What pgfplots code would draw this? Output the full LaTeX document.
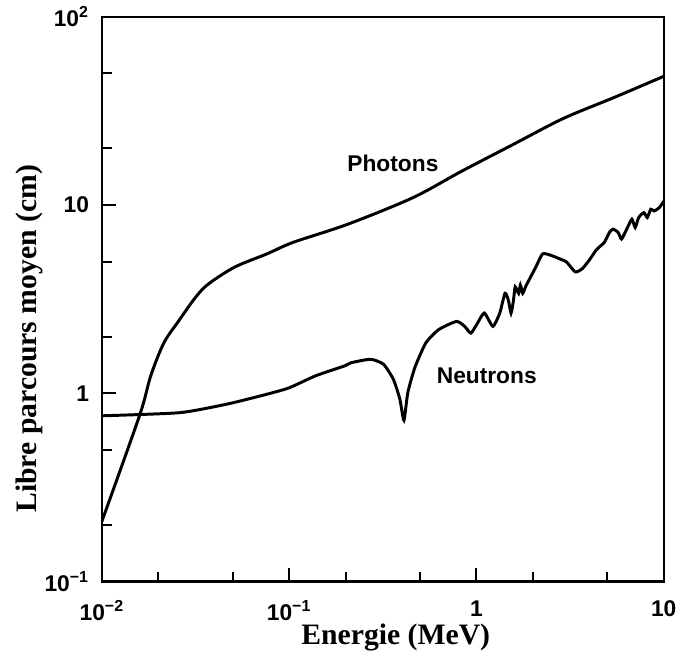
\documentclass[border=0pt]{standalone}
\usepackage{fontspec}
\setmainfont{Liberation Serif}
\setsansfont{Liberation Sans}
\usepackage{pgfplots}
\pgfplotsset{compat=1.18}
\begin{document}
\begin{tikzpicture}
\begin{axis}[
  name=ax,
  scale only axis,
  width=284pt, height=285.5pt,
  xmode=log, ymode=log,
  xmin=0.01, xmax=10, ymin=0.1, ymax=100,
  axis line style={line width=1.2pt},
  tick align=inside,
  xtick pos=bottom, ytick pos=left,
  major tick length=7pt, minor tick length=5pt,
  every tick/.style={black, line width=1pt},
  xtick={0.01,0.1,1,10},
  xticklabels={10\textsuperscript{−2},10\textsuperscript{−1},1,10},
  ytick={0.1,1,10,100},
  yticklabels={10\textsuperscript{−1},1,10,10\textsuperscript{2}},
  minor xtick={0.02,0.05,0.2,0.5,2,5},
  minor ytick={0.2,0.5,2,5,20,50},
  /pgf/number format/assume math mode=true,
  ticklabel style={font=\fontsize{11.5}{13}\selectfont\sffamily\bfseries},
  xticklabel style={yshift=-6pt},
  yticklabel style={xshift=-3pt},
  xlabel={Energie (MeV)},
  ylabel={Libre parcours moyen (cm)},
  label style={font=\fontsize{15}{18}\selectfont\rmfamily\bfseries},
  xlabel style={at={(axis description cs:0.523,-0.099)}, anchor=center},
  ylabel style={at={(axis description cs:-0.1285,0.43)}, anchor=center, rotate=0},
]
\addplot[black, line width=1.5pt, smooth, tension=0.5] coordinates {
(0.01,0.209) (0.0159,0.764) (0.01824,1.24) (0.0214,1.85) (0.0256,2.41)
(0.0318,3.26) (0.0373,3.83) (0.0513,4.69) (0.0762,5.51) (0.105,6.34)
(0.206,7.92) (0.457,10.94) (0.83,15.1) (1.543,20.8) (2.90,28.8)
(5.47,37.4) (10,48.3)
};
\addplot[black, line width=1.5pt, smooth, tension=0.35] coordinates {
(0.01,0.76) (0.0261,0.79) (0.0473,0.88) (0.0762,0.99) (0.1,1.07)
(0.1385,1.24) (0.198,1.40) (0.2146,1.455) (0.2724,1.517) (0.319,1.427)
(0.3597,1.19) (0.3897,0.935) (0.41,0.72) (0.43,1.01) (0.47,1.38)
(0.536,1.85) (0.628,2.18) (0.782,2.41) (0.864,2.27) (0.934,2.09)
(1.013,2.36) (1.102,2.67) (1.224,2.27) (1.332,2.67) (1.42,3.40)
(1.48,3.13) (1.53,2.67) (1.577,3.13) (1.61,3.68) (1.68,3.40)
(1.716,3.76) (1.767,3.40) (1.828,3.68) (1.906,3.99) (2.075,4.69)
(2.257,5.51) (2.507,5.40) (2.786,5.18) (3.03,4.98) (3.37,4.42)
(3.67,4.59) (3.99,5.08) (4.16,5.40) (4.34,5.74) (4.62,6.10)
(4.82,6.34) (5.13,7.16) (5.36,7.45) (5.71,7.16) (5.95,6.60)
(6.34,7.45) (6.76,8.41) (7.04,7.61) (7.35,8.59) (7.83,9.12)
(8.17,8.59) (8.52,9.50) (8.89,9.31) (9.47,9.69) (10,10.5)
};
\node[font=\fontsize{11.5}{13}\selectfont\sffamily\bfseries] at (axis cs:0.358,16.7) {Photons};
\node[font=\fontsize{11.5}{13}\selectfont\sffamily\bfseries] at (axis cs:1.135,1.24) {Neutrons};
\end{axis}
\path ([shift={(-51.5pt,-34pt)}]ax.south west) rectangle ([shift={(6pt,8.5pt)}]ax.north east);
\end{tikzpicture}
\end{document}
